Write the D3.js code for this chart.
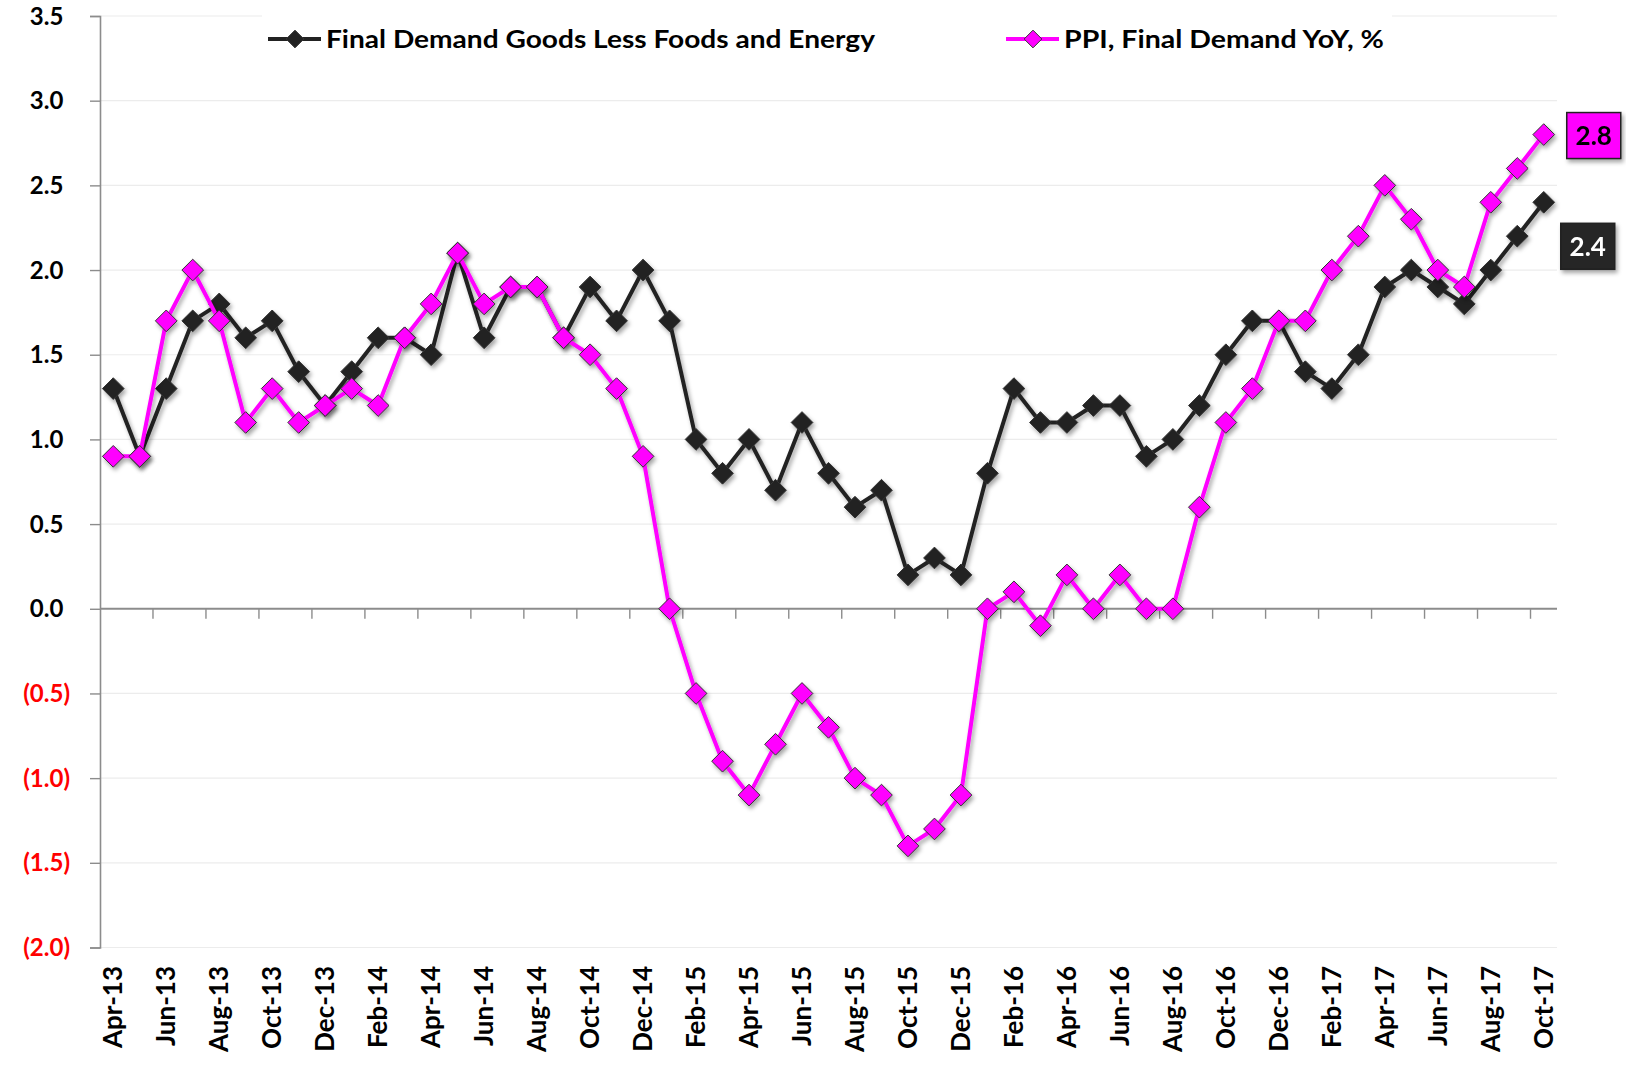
<!DOCTYPE html>
<html>
<head>
<meta charset="utf-8">
<title>PPI Final Demand</title>
<script src="https://cdn.jsdelivr.net/npm/d3@7"></script>
<style>
  body { margin: 0; background: #fff; }
  text { font-family: Lato, "Open Sans", sans-serif; font-weight: bold; }
</style>
</head>
<body>
<script>
// months Apr-13 .. Oct-17
var months = ["Apr-13","May-13","Jun-13","Jul-13","Aug-13","Sep-13","Oct-13","Nov-13","Dec-13",
  "Jan-14","Feb-14","Mar-14","Apr-14","May-14","Jun-14","Jul-14","Aug-14","Sep-14","Oct-14","Nov-14","Dec-14",
  "Jan-15","Feb-15","Mar-15","Apr-15","May-15","Jun-15","Jul-15","Aug-15","Sep-15","Oct-15","Nov-15","Dec-15",
  "Jan-16","Feb-16","Mar-16","Apr-16","May-16","Jun-16","Jul-16","Aug-16","Sep-16","Oct-16","Nov-16","Dec-16",
  "Jan-17","Feb-17","Mar-17","Apr-17","May-17","Jun-17","Jul-17","Aug-17","Sep-17","Oct-17"];

var coreGoods = [1.3,0.9,1.3,1.7,1.8,1.6,1.7,1.4,1.2,
  1.4,1.6,1.6,1.5,2.1,1.6,1.9,1.9,1.6,1.9,1.7,2.0,
  1.7,1.0,0.8,1.0,0.7,1.1,0.8,0.6,0.7,0.2,0.3,0.2,
  0.8,1.3,1.1,1.1,1.2,1.2,0.9,1.0,1.2,1.5,1.7,1.7,
  1.4,1.3,1.5,1.9,2.0,1.9,1.8,2.0,2.2,2.4];

var ppiFinal = [0.9,0.9,1.7,2.0,1.7,1.1,1.3,1.1,1.2,
  1.3,1.2,1.6,1.8,2.1,1.8,1.9,1.9,1.6,1.5,1.3,0.9,
  0.0,-0.5,-0.9,-1.1,-0.8,-0.5,-0.7,-1.0,-1.1,-1.4,-1.3,-1.1,
  0.0,0.1,-0.1,0.2,0.0,0.2,0.0,0.0,0.6,1.1,1.3,1.7,
  1.7,2.0,2.2,2.5,2.3,2.0,1.9,2.4,2.6,2.8];

var yTicks = [3.5,3.0,2.5,2.0,1.5,1.0,0.5,0.0,-0.5,-1.0,-1.5,-2.0];
var seriesNames = ["Final Demand Goods Less Foods and Energy", "PPI, Final Demand YoY, %"];

var chartW = 1626, chartH = 1067;
var plotLeft = 100, plotRight = 1557, plotTop = 16, plotBottom = 947.5;

var svg = d3.select("body").append("svg")
  .attr("width", chartW)
  .attr("height", chartH);

var defs = svg.append("defs");
var shadow = defs.append("filter").attr("id", "shadow")
  .attr("x", "-20%").attr("y", "-20%").attr("width", "140%").attr("height", "140%");
shadow.append("feDropShadow")
  .attr("dx", 2).attr("dy", 3).attr("stdDeviation", 2)
  .attr("flood-color", "#000").attr("flood-opacity", 0.35);

var x = d3.scaleBand().domain(months).range([plotLeft, plotRight]).padding(0);
var y = d3.scaleLinear().domain([-2, 3.5]).range([plotBottom, plotTop]);
function cx(m){ return x(m) + x.bandwidth() / 2; }

// gridlines
svg.append("g").selectAll("line")
  .data(yTicks.filter(function(d){ return d != 0; }))
  .enter().append("line")
  .attr("x1", plotLeft).attr("x2", plotRight)
  .attr("y1", function(d){ return y(d); })
  .attr("y2", function(d){ return y(d); })
  .attr("stroke", "#ececec").attr("stroke-width", 1.2);

// y axis
var yAxis = svg.append("g")
  .attr("transform", "translate(" + plotLeft + ",0)")
  .call(d3.axisLeft(y).tickValues(yTicks).tickSize(10).tickFormat(""));
yAxis.select(".domain").attr("stroke", "#8c8c8c").attr("stroke-width", 1.6);
yAxis.selectAll(".tick line").attr("stroke", "#8c8c8c").attr("stroke-width", 1.4);

svg.append("g").selectAll("text")
  .data(yTicks)
  .enter().append("text")
  .attr("x", 70)
  .attr("y", function(d){ return y(d); })
  .attr("dy", "0.36em")
  .attr("text-anchor", "end")
  .attr("font-size", 24)
  .attr("fill", function(d){ return d < 0 ? "#ff0000" : "#000"; })
  .each(function(d){
    var t = d3.select(this);
    if (d < 0) {
      t.text("(" + Math.abs(d).toFixed(1) + ")");
    } else {
      t.append("tspan").text(d.toFixed(1));
      t.append("tspan").attr("fill-opacity", 0).text(")");
    }
  });

// x axis on zero line
var tickMonths = months.filter(function(d, i){ return i % 2 == 0 && i > 0; });
svg.append("g").selectAll("line")
  .data(tickMonths)
  .enter().append("line")
  .attr("x1", function(d){ return x(d); })
  .attr("x2", function(d){ return x(d); })
  .attr("y1", y(0)).attr("y2", y(0) + 10)
  .attr("stroke", "#8c8c8c").attr("stroke-width", 1.4);
svg.append("line")
  .attr("x1", plotLeft).attr("x2", plotRight)
  .attr("y1", y(0)).attr("y2", y(0))
  .attr("stroke", "#8c8c8c").attr("stroke-width", 2);

svg.append("g").selectAll("text")
  .data(months.filter(function(d, i){ return i % 2 == 0; }))
  .enter().append("text")
  .attr("transform", function(d){ return "translate(" + (cx(d) + 9) + "," + 966 + ") rotate(-90)"; })
  .attr("text-anchor", "end")
  .attr("font-size", 26)
  .attr("fill", "#000")
  .text(function(d){ return d; });

// lines
var line = d3.line()
  .x(function(d){ return cx(d.m); })
  .y(function(d){ return y(d.v); });

function toPts(arr){ return arr.map(function(v, i){ return {m: months[i], v: v}; }); }

var diamond = d3.symbol().type(d3.symbolDiamond2).size(300);

function drawSeries(vals, lineCol, fillCol){
  var g = svg.append("g").attr("filter", "url(#shadow)");
  g.append("path")
    .datum(toPts(vals))
    .attr("d", line)
    .attr("fill", "none")
    .attr("stroke", lineCol)
    .attr("stroke-width", 4)
    .attr("stroke-linejoin", "round");
  g.selectAll("path.mk")
    .data(toPts(vals))
    .enter().append("path")
    .attr("class", "mk")
    .attr("d", diamond)
    .attr("transform", function(d){ return "translate(" + cx(d.m) + "," + y(d.v) + ")"; })
    .attr("fill", fillCol)
    .attr("stroke", "#333")
    .attr("stroke-width", 1);
}

drawSeries(coreGoods, "#222222", "#222222");
drawSeries(ppiFinal, "#ff00ff", "#ff00ff");

// end labels
var last = months[months.length - 1];
function endLabel(val, xOff, yOff, bg, fg){
  var g = svg.append("g")
    .attr("transform", "translate(" + (cx(last) + xOff) + "," + (y(val) + yOff) + ")");
  g.append("rect")
    .attr("x", 0).attr("y", -23).attr("width", 54).attr("height", 46)
    .attr("fill", bg).attr("stroke", "#222").attr("stroke-width", 1.5)
    .attr("filter", "url(#shadow)");
  g.append("text")
    .attr("x", 27).attr("y", 0).attr("dy", "0.36em")
    .attr("text-anchor", "middle")
    .attr("font-size", 26)
    .attr("fill", fg)
    .text(val.toFixed(1));
}
endLabel(ppiFinal[ppiFinal.length - 1], 23, 1, "#ff00ff", "#000");
endLabel(coreGoods[coreGoods.length - 1], 17, 44, "#262626", "#fff");

// legend
var legend = svg.append("g");
legend.append("rect")
  .attr("x", 262).attr("y", 12).attr("width", 1130).attr("height", 50)
  .attr("fill", "#fff");

var legendItems = [
  {name: seriesNames[0], col: "#222222", x0: 268, len: 549},
  {name: seriesNames[1], col: "#ff00ff", x0: 1006, len: 320}
];
legendItems.forEach(function(it){
  legend.append("line")
    .attr("x1", it.x0).attr("x2", it.x0 + 53)
    .attr("y1", 39).attr("y2", 39)
    .attr("stroke", it.col).attr("stroke-width", 4);
  legend.append("path")
    .attr("d", d3.symbol().type(d3.symbolDiamond2).size(200))
    .attr("transform", "translate(" + (it.x0 + 27) + ",39)")
    .attr("fill", it.col).attr("stroke", "#333").attr("stroke-width", 1);
  legend.append("text")
    .attr("x", it.x0 + 58).attr("y", 39).attr("dy", "0.36em")
    .attr("font-size", 25)
    .attr("fill", "#000")
    .attr("textLength", it.len)
    .attr("lengthAdjust", "spacingAndGlyphs")
    .text(it.name);
});
</script>
</body>
</html>
